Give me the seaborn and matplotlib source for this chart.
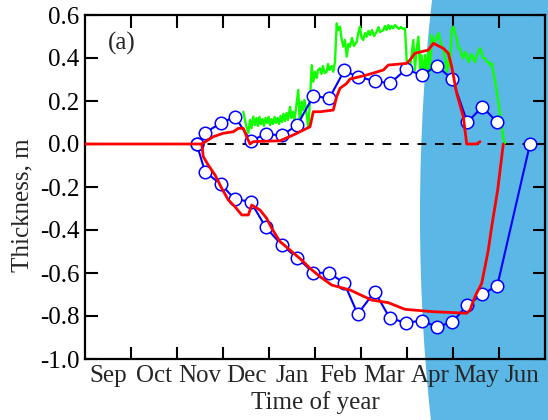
import numpy as np
import matplotlib
matplotlib.use('Agg')
import matplotlib.pyplot as plt
from matplotlib.patches import Ellipse
import seaborn as sns

# ---------------- data (x in months since 1 Sep) ----------------
month_labels = ['Sep', 'Oct', 'Nov', 'Dec', 'Jan', 'Feb', 'Mar', 'Apr', 'May', 'Jun']
y_tick_values = [-1.0, -0.8, -0.6, -0.4, -0.2, 0.0, 0.2, 0.4, 0.6]
y_tick_labels = ['-1.0', '-0.8', '-0.6', '-0.4', '-0.2', '0.0', '0.2', '0.4', '0.6']

# model (red) - upper surface
red_up_t = [0.0, 2.537, 2.789, 3.007, 3.224, 3.333, 3.441, 3.515, 3.587, 3.659, 4.239,
            4.528, 4.674, 4.891, 4.963, 5.109, 5.398, 5.471, 5.543, 5.689, 5.761,
            6.124, 6.485, 6.593, 6.993, 7.065, 7.174, 7.463, 7.572, 7.789, 7.898,
            7.972, 8.080, 8.224, 8.298, 8.515, 8.587]
red_up_v = [0.0, 0.0, 0.034, 0.050, 0.057, 0.073, 0.073, 0.034, 0.0, 0.011, 0.015,
            0.042, 0.057, 0.080, 0.150, 0.150, 0.158, 0.220, 0.259, 0.282, 0.302,
            0.321, 0.344, 0.367, 0.375, 0.391, 0.422, 0.437, 0.468, 0.445, 0.422,
            0.360, 0.236, 0.127, 0.0, 0.0, 0.011]
# model (red) - lower surface
red_lo_t = [2.537, 2.572, 2.680, 2.826, 2.972, 3.115, 3.261, 3.407, 3.550, 3.624,
            3.804, 3.950, 4.059, 4.239, 4.457, 4.711, 4.891, 5.109, 5.363, 5.761,
            6.233, 6.593, 6.957, 7.572, 8.298, 8.370, 8.478, 8.624, 8.696, 8.767,
            8.841, 8.971, 9.093]
red_lo_v = [0.0, -0.059, -0.098, -0.144, -0.206, -0.260, -0.292, -0.330, -0.330, -0.284,
            -0.307, -0.346, -0.392, -0.454, -0.493, -0.540, -0.578, -0.617, -0.656, -0.679,
            -0.726, -0.738, -0.769, -0.780, -0.787, -0.772, -0.710, -0.648, -0.571, -0.493,
            -0.385, -0.214, 0.0]

# observations (blue circles)
obs_up_t = [2.428, 2.609, 2.950, 3.261, 3.602, 3.928, 4.276, 4.615, 4.963, 5.311,
            5.637, 5.928, 6.298, 6.630, 6.978, 7.320, 7.646, 7.985, 8.311, 8.637, 8.963]
obs_up_v = [0.0, 0.053, 0.096, 0.127, 0.014, 0.047, 0.040, 0.088, 0.223, 0.213,
            0.342, 0.313, 0.293, 0.282, 0.347, 0.321, 0.363, 0.302, 0.101, 0.173, 0.101]
obs_lo_t = [2.428, 2.609, 2.950, 3.261, 3.602, 3.928, 4.276, 4.615, 4.963, 5.311,
            5.637, 5.928, 6.298, 6.630, 6.978, 7.320, 7.646, 7.985, 8.311, 8.637,
            8.963, 9.674]
obs_lo_v = [0.0, -0.129, -0.187, -0.257, -0.268, -0.387, -0.470, -0.529, -0.599, -0.599,
            -0.648, -0.791, -0.687, -0.811, -0.831, -0.822, -0.850, -0.829, -0.749, -0.699,
            -0.659, 0.0]

# snow/ice surface sensor (green)
green_t = [3.441, 3.500, 3.550, 3.587, 3.620, 3.659, 3.696, 3.728, 3.761, 3.793,
           3.826, 3.859, 3.891, 3.924, 3.957, 3.989, 4.022, 4.054, 4.087, 4.120,
           4.152, 4.185, 4.217, 4.250, 4.283, 4.315, 4.348, 4.380, 4.413, 4.457,
           4.489, 4.522, 4.554, 4.587, 4.637, 4.674, 4.711, 4.739, 4.772, 4.820,
           4.854, 4.891, 4.928, 4.963, 5.000, 5.037, 5.065, 5.109, 5.141, 5.174,
           5.207, 5.254, 5.283, 5.315, 5.363, 5.398, 5.435, 5.472, 5.511, 5.543,
           5.576, 5.615, 5.652, 5.689, 5.728, 5.761, 5.804, 5.848, 5.907, 5.946,
           5.978, 6.011, 6.050, 6.087, 6.124, 6.163, 6.196, 6.239, 6.283, 6.341,
           6.380, 6.413, 6.485, 6.522, 6.554, 6.593, 6.630, 6.663, 6.702, 6.739,
           6.776, 6.826, 6.870, 6.913, 6.957, 6.993, 7.022, 7.065, 7.098, 7.137,
           7.174, 7.207, 7.246, 7.283, 7.315, 7.354, 7.391, 7.428, 7.463, 7.500,
           7.537, 7.572, 7.609, 7.646, 7.685, 7.717, 7.750, 7.789, 7.826, 7.863,
           7.898, 7.935, 7.972, 8.007, 8.043, 8.080, 8.115, 8.152, 8.185, 8.224,
           8.261, 8.298, 8.337, 8.370, 8.402, 8.441, 8.478, 8.515, 8.554, 8.587,
           8.620, 8.659, 8.696, 8.733, 8.772, 8.804, 8.841, 8.876, 8.913, 8.950,
           8.989, 9.022, 9.059, 9.093, 9.130]
green_v = [0.150, 0.088, 0.051, 0.112, 0.074, 0.127, 0.088, 0.121, 0.084, 0.126,
           0.093, 0.116, 0.084, 0.121, 0.098, 0.126, 0.088, 0.116, 0.093, 0.126,
           0.098, 0.121, 0.093, 0.130, 0.102, 0.140, 0.107, 0.144, 0.112, 0.173,
           0.121, 0.149, 0.112, 0.167, 0.251, 0.074, 0.197, 0.158, 0.205, 0.135,
           0.074, 0.205, 0.367, 0.290, 0.335, 0.307, 0.344, 0.352, 0.326, 0.363,
           0.330, 0.336, 0.372, 0.344, 0.363, 0.336, 0.383, 0.561, 0.530, 0.546,
           0.493, 0.453, 0.484, 0.406, 0.465, 0.453, 0.493, 0.456, 0.476, 0.521,
           0.546, 0.493, 0.484, 0.516, 0.499, 0.526, 0.507, 0.530, 0.502, 0.522,
           0.544, 0.521, 0.530, 0.549, 0.530, 0.553, 0.535, 0.549, 0.538, 0.553,
           0.546, 0.535, 0.544, 0.535, 0.538, 0.391, 0.335, 0.352, 0.414, 0.484,
           0.344, 0.437, 0.499, 0.352, 0.414, 0.321, 0.414, 0.329, 0.437, 0.336,
           0.507, 0.484, 0.474, 0.493, 0.516, 0.484, 0.460, 0.445, 0.400, 0.336,
           0.391, 0.360, 0.530, 0.546, 0.515, 0.493, 0.445, 0.445, 0.414, 0.399,
           0.428, 0.414, 0.381, 0.400, 0.419, 0.400, 0.381, 0.409, 0.428, 0.445,
           0.428, 0.399, 0.399, 0.383, 0.381, 0.367, 0.375, 0.336, 0.298, 0.243,
           0.195, 0.135, 0.088, 0.027, 0.003]

# ---------------- style ----------------
sns.set_style('ticks')
plt.rcParams['font.family'] = ['Liberation Serif', 'DejaVu Serif']
plt.rcParams['font.size'] = 18

fig = plt.figure(figsize=(5.48, 4.2), dpi=100)
fig.patch.set_facecolor('white')
ax = fig.add_axes([85 / 548, 1 - 359 / 420, 460 / 548, 344 / 420])
ax.patch.set_facecolor('none')

# melt-season shading (behind the axes)
ell = Ellipse((601 / 548, 1 - 215 / 420), 2 * 181 / 548, 2 * 600 / 420,
              transform=fig.transFigure, facecolor='#5ab7e6', edgecolor='none',
              zorder=-10)
fig.add_artist(ell)

ax.axhline(0, color='black', lw=1.4, ls=(0, (4.5, 4.5)), zorder=1)

sns.lineplot(x=green_t, y=green_v, color='#11ff00', lw=1.7, sort=False,
             estimator=None, ax=ax, zorder=2)

mk = dict(marker='o', markersize=9, markerfacecolor='white',
          markeredgecolor='#0000ff', markeredgewidth=1.1)
sns.lineplot(x=obs_up_t, y=obs_up_v, color='#0000ff', lw=1.5, sort=False,
             estimator=None, ax=ax, zorder=3, **mk)
sns.lineplot(x=obs_lo_t, y=obs_lo_v, color='#0000ff', lw=1.5, sort=False,
             estimator=None, ax=ax, zorder=3, **mk)

sns.lineplot(x=red_up_t, y=red_up_v, color='#ff0000', lw=2.0, sort=False,
             estimator=None, ax=ax, zorder=4)
sns.lineplot(x=red_lo_t, y=red_lo_v, color='#ff0000', lw=2.0, sort=False,
             estimator=None, ax=ax, zorder=4)

ax.set_xlim(0, 10)
ax.set_ylim(-1.0, 0.6)

ax.set_xticks(range(1, 10))
ax.set_xticklabels([])
ax.set_xticks(np.arange(0.5, 10, 1), minor=True)
ax.set_xticklabels(month_labels, minor=True)
ax.set_yticks(y_tick_values)
ax.set_yticklabels(y_tick_labels)

ax.tick_params(which='major', direction='in', length=9, width=1.5,
               top=True, right=True, labelsize=18, pad=4, colors='black')
ax.tick_params(axis='x', which='minor', length=0, pad=4, labelsize=18)
ax.tick_params(axis='y', which='minor', left=False, right=False)

for s in ax.spines.values():
    s.set_linewidth(1.6)
    s.set_color('black')
    s.set_visible(True)

ax.set_xlabel('Time of year', fontsize=18)
ax.set_ylabel('Thickness, m', fontsize=18)
ax.xaxis.set_label_coords(0.5, -0.092)
ax.yaxis.set_label_coords(-0.113, 0.448)

ax.text(0.08, 0.918, '(a)', transform=ax.transAxes, fontsize=18,
        ha='center', va='center')

fig.savefig('out.png', dpi=100)
